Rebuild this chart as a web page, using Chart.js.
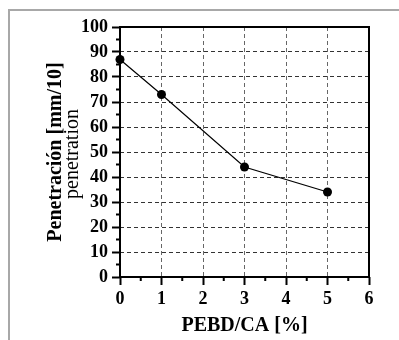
<!DOCTYPE html>
<html>
<head>
<meta charset="utf-8">
<script src="https://cdn.jsdelivr.net/npm/chart.js@4/dist/chart.umd.min.js"></script>
<style>
  html, body { margin: 0; padding: 0; background: #fff; }
  #wrap { position: relative; width: 399px; height: 340px; }
  #frame {
    position: absolute; left: 8px; top: 9px; right: -4px; bottom: -4px;
    border-top: 2px solid #a8a8a8; border-left: 2px solid #a8a8a8;
  }
  canvas { position: absolute; left: 0; top: 0; }
</style>
</head>
<body>
<div id="wrap">
  <div id="frame"></div>
  <canvas id="penetracion" width="399" height="340"></canvas>
</div>
<script>
// PEBD/CA content (%) and penetration (mm/10)
const pebd = [0, 1, 3, 5];
const penetracion = [87, 73, 44, 34];

const yTitle = "Penetración [mm/10]";
const yTitle2 = "penetration";
const xTitle = "PEBD/CA [%]";

const serif = "'Liberation Serif', 'Times New Roman', serif";

// frame box, minor ticks and the second (regular) line of the y title
const extras = {
  id: "extras",
  afterDraw(chart) {
    const ctx = chart.ctx;
    const a = chart.chartArea;
    const x = chart.scales.x;
    const y = chart.scales.y;
    ctx.save();
    ctx.strokeStyle = "#000";
    ctx.lineWidth = 2;
    ctx.strokeRect(a.left, a.top, a.right - a.left, a.bottom - a.top);

    ctx.beginPath();
    for (let v = 5; v < 100; v += 10) {
      let py = y.getPixelForValue(v);
      ctx.moveTo(a.left - 4, py);
      ctx.lineTo(a.left, py);
    }
    for (let v = 0.5; v < 6; v += 1) {
      let px = x.getPixelForValue(v);
      ctx.moveTo(px, a.bottom);
      ctx.lineTo(px, a.bottom + 4);
    }
    ctx.stroke();

    ctx.fillStyle = "#000";
    ctx.font = "20px " + serif;
    ctx.textAlign = "center";
    ctx.textBaseline = "middle";
    ctx.translate(73, (a.top + a.bottom) / 2 + 2);
    ctx.rotate(-Math.PI / 2);
    ctx.fillText(yTitle2, 0, 0);
    ctx.restore();
  }
};

let ctx = document.getElementById("penetracion").getContext("2d");
let graph = new Chart(ctx, {
  type: "scatter",
  data: {
    datasets: [
      {
        data: pebd.map((v, i) => ({ x: v, y: penetracion[i] })),
        showLine: true,
        borderColor: "#000",
        borderWidth: 1.2,
        backgroundColor: "#000",
        pointRadius: 4.5,
        pointBorderWidth: 0,
        clip: false
      }
    ]
  },
  options: {
    responsive: false,
    animation: false,
    events: [],
    layout: { padding: { left: 0, right: 30, top: 27, bottom: 0 } },
    plugins: { legend: { display: false }, tooltip: { enabled: false } },
    scales: {
      x: {
        type: "linear",
        min: 0,
        max: 6,
        afterFit: s => { s.height = 63; },
        ticks: {
          stepSize: 1,
          color: "#000",
          padding: 4,
          font: { family: serif, size: 18, weight: "bold" }
        },
        grid: {
          color: ctx => (ctx.tick.value === 0 || ctx.tick.value === 6) ? "rgba(0,0,0,0)" : "#666",
          lineWidth: 1,
          tickColor: "#000",
          tickWidth: 2,
          tickLength: 8
        },
        border: { display: false, dash: [4, 3] },
        title: {
          display: true,
          text: xTitle,
          color: "#000",
          padding: { top: 0, bottom: 2 },
          font: { family: serif, size: 20, weight: "bold" }
        }
      },
      y: {
        min: 0,
        max: 100,
        afterFit: s => { s.width = 120; },
        ticks: {
          stepSize: 10,
          color: "#000",
          padding: 4,
          font: { family: serif, size: 18, weight: "bold" }
        },
        grid: {
          color: ctx => (ctx.tick.value === 0 || ctx.tick.value === 100) ? "rgba(0,0,0,0)" : "#333",
          lineWidth: 1,
          tickColor: "#000",
          tickWidth: 2,
          tickLength: 8
        },
        border: { display: false, dash: [4, 3] },
        title: {
          display: true,
          text: yTitle,
          color: "#000",
          padding: { top: 44, bottom: 0 },
          font: { family: serif, size: 20, weight: "bold" }
        }
      }
    }
  },
  plugins: [extras]
});
</script>
</body>
</html>
